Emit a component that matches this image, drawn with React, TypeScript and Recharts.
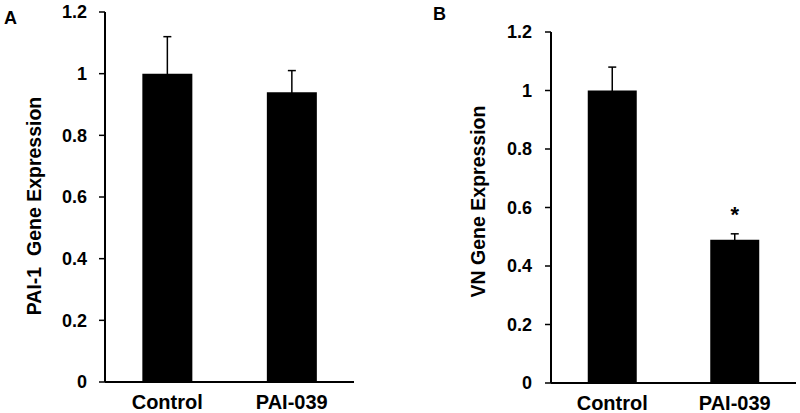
import { Bar, BarChart, ErrorBar, Label, LabelList, XAxis, YAxis } from "recharts";

const groups = ["Control", "PAI-039"];
const pai1Values = [1.0, 0.94];
const pai1Errors = [0.12, 0.07];
const vnValues = [1.0, 0.49];
const vnErrors = [0.08, 0.02];
const vnMarks = ["", "*"];
const yTicks = [0, 0.2, 0.4, 0.6, 0.8, 1, 1.2];

const font = "'Liberation Sans', Arial, sans-serif";

type PanelProps = {
  letter: string;
  letterPos: [number, number];
  title: string;
  titlePos: [number, number];
  values: number[];
  errors: number[];
  marks?: string[];
  margin: { top: number; right: number; bottom: number; left: number };
  tickMargin: number;
};

function Panel({ letter, letterPos, title, titlePos, values, errors, marks, margin, tickMargin }: PanelProps) {
  const data = groups.map((g, i) => ({
    name: g,
    value: values[i],
    err: errors[i],
    mark: marks ? marks[i] : ""
  }));

  // panel letter + rotated axis title
  const overlay = () => (
    <g fontFamily={font} fontWeight="bold" fill="#000">
      <text x={letterPos[0]} y={letterPos[1]} fontSize={18}>
        {letter}
      </text>
      <text
        x={titlePos[0]}
        y={titlePos[1]}
        fontSize={19.5}
        textAnchor="middle"
        style={{ whiteSpace: "pre" }}
        transform={`rotate(-90 ${titlePos[0]} ${titlePos[1]})`}
      >
        {title}
      </text>
    </g>
  );

  return (
    <BarChart width={400} height={413} data={data} margin={margin} barCategoryGap="30%">
      <XAxis
        dataKey="name"
        axisLine={{ stroke: "#000", strokeWidth: 2 }}
        tickLine={false}
        tickSize={0}
        tickMargin={13}
        height={30}
        tick={{ fill: "#000", fontSize: 20, fontWeight: "bold", fontFamily: font }}
      />
      <YAxis
        domain={[0, 1.2]}
        ticks={yTicks}
        width={60}
        axisLine={{ stroke: "#000", strokeWidth: 2 }}
        tickLine={{ stroke: "#000", strokeWidth: 1.5 }}
        tickSize={6}
        tickMargin={tickMargin}
        tick={{ fill: "#000", fontSize: 18, fontWeight: "bold", fontFamily: font }}
      >
        <Label content={overlay} />
      </YAxis>
      <Bar dataKey="value" fill="#000" isAnimationActive={false}>
        <ErrorBar dataKey="err" direction="y" width={4} stroke="#000" strokeWidth={1.5} />
        {marks && (
          <LabelList
            dataKey="mark"
            position="top"
            offset={18}
            fill="#000"
            fontSize={22}
            fontWeight="bold"
            fontFamily={font}
          />
        )}
      </Bar>
    </BarChart>
  );
}

export default function App() {
  return (
    <div style={{ position: "absolute", left: 0, top: 0, width: 800, height: 413, background: "#fff" }}>
      <div style={{ position: "absolute", left: 0, top: 0 }}>
        <Panel
          letter="A"
          letterPos={[4, 24]}
          title="PAI-1  Gene Expression"
          titlePos={[40.5, 206]}
          values={pai1Values}
          errors={pai1Errors}
          margin={{ top: 12, right: 46, bottom: 1, left: 45 }}
          tickMargin={12}
        />
      </div>
      <div style={{ position: "absolute", left: 400, top: 0 }}>
        <Panel
          letter="B"
          letterPos={[33, 20]}
          title="VN Gene Expression"
          titlePos={[84.5, 201.5]}
          values={vnValues}
          errors={vnErrors}
          marks={vnMarks}
          margin={{ top: 32, right: 4, bottom: 0, left: 91 }}
          tickMargin={13}
        />
      </div>
    </div>
  );
}
